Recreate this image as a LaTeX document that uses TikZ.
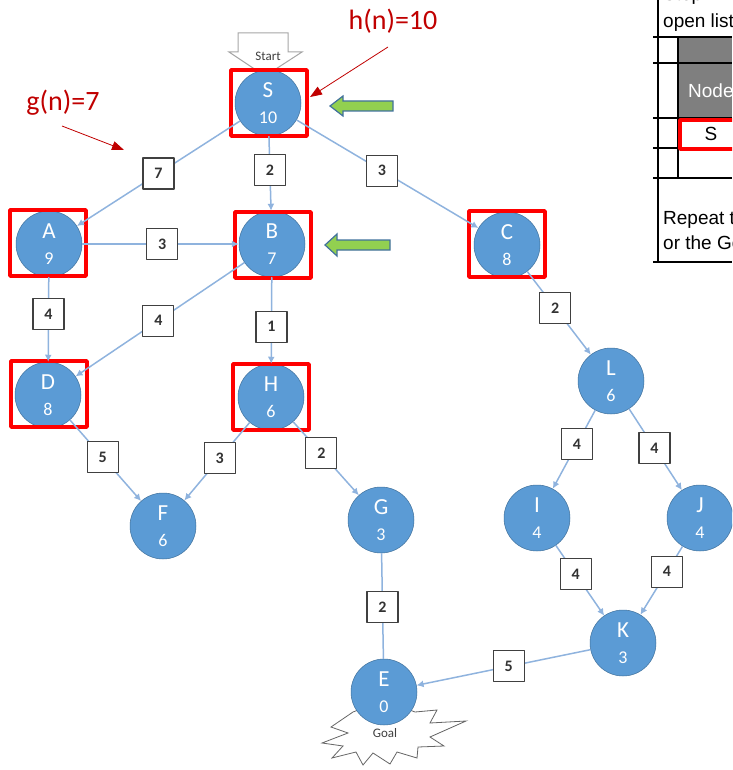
\documentclass[tikz,border=0pt]{standalone}
\usepackage{fontspec}
\setmainfont{Carlito}
\newfontfamily\tablefont{Liberation Sans}
\usetikzlibrary{arrows.meta}
\definecolor{nodeblue}{HTML}{5B9BD5}
\definecolor{nodeline}{HTML}{41719C}
\definecolor{edgeblue}{HTML}{8FB3DE}
\definecolor{notered}{HTML}{C00000}
\definecolor{arrowgreen}{HTML}{92D050}
\definecolor{headgray}{HTML}{7F7F7F}
\newcommand{\hv}[1]{{\fontsize{18}{26}\selectfont #1}}
\begin{document}
\begin{tikzpicture}[x=1pt,y=-1pt,>=latex,line join=bevel,
  state/.style={circle,draw=nodeline,line width=0.5pt,fill=nodeblue,minimum size=66pt,inner sep=0pt,align=center,text=white,font=\fontsize{23}{26}\selectfont},
  seen/.style={draw=red,line width=3.5pt,minimum width=76pt,minimum height=66pt,inner sep=0pt},
  wt/.style={draw=black!75,line width=1.1pt,fill=white,minimum size=31pt,inner sep=0pt,text=black!80,font=\fontsize{16}{16}\selectfont\bfseries},
  link/.style={draw=edgeblue,line width=1.5pt,-{Latex[length=7pt,width=7pt]}},
  note/.style={text=notered,font=\fontsize{28}{28}\selectfont},
  noteline/.style={draw=notered,line width=0.8pt,-{Triangle[length=12pt,width=9pt]}},
  greenarrow/.style={fill=arrowgreen,draw=nodeline,line width=1.2pt,line join=miter},
  tbl/.style={draw=black,line width=1.2pt},
  tbltext/.style={anchor=base west,inner sep=0pt,font=\tablefont\fontsize{19}{19}\selectfont},
]
\useasboundingbox (0,0) rectangle (732,770);
\clip (0,0) rectangle (732,770);
%% start and goal marks
\draw [fill=white,draw=black!35,line width=1pt,line join=miter] (238,33) -- (288,33) -- (288,52) -- (302,52) -- (265,76) -- (229,52) -- (238,52) -- cycle;
\node (start) at (268,56) [text=black!75,font=\fontsize{13}{13}\selectfont] {Start};
\draw [fill=white,draw=black!60,line width=0.8pt,line join=miter] (353,712) -- (331,727) -- (348,733) -- (322,743) -- (343,746) -- (332,758) -- (356,752) -- (363,765) -- (373,753) -- (390,764) -- (397,752) -- (417,758) -- (418,747) -- (444,746) -- (430,737) -- (466,721) -- (430,723) -- (437,710) -- (415,712) -- (384,700) -- cycle;
\node (goal) at (385,733) [text=black!75,font=\fontsize{13}{13}\selectfont] {Goal};
%% states
\node (S) at (268,103) [state] {S\\\hv{10}};
\node (A) at (49,244) [state] {A\\\hv{9}};
\node (B) at (272,244) [state] {B\\\hv{7}};
\node (C) at (507,245) [state] {C\\\hv{8}};
\node (D) at (48,395) [state] {D\\\hv{8}};
\node (H) at (271,397) [state] {H\\\hv{6}};
\node (F) at (163,526) [state] {F\\\hv{6}};
\node (G) at (381,520) [state] {G\\\hv{3}};
\node (L) at (611,381) [state] {L\\\hv{6}};
\node (I) at (537,518) [state] {I\\\hv{4}};
\node (J) at (700,518) [state] {J\\\hv{4}};
\node (K) at (623,643) [state] {K\\\hv{3}};
\node (E) at (384,692) [state] {E\\\hv{0}};
%% visited boxes
\node (Sbox) at (269,103) [seen] {};
\node (Abox) at (48,243) [seen] {};
\node (Bbox) at (273,245) [seen] {};
\node (Cbox) at (507,244) [seen] {};
\node (Dbox) at (49,394) [seen] {};
\node (Hbox) at (271,397) [seen] {};
%% edges with costs
\draw [link] (S) -- node[wt,pos=0.5] (wSA) {7} (A);
\draw [link] (S) -- node[wt,pos=0.45] (wSB) {2} (B);
\draw [link] (S) -- node[wt,pos=0.47] (wSC) {3} (C);
\draw [link] (A) -- node[wt,pos=0.51] (wAB) {3} (B);
\draw [link] (A) -- node[wt,pos=0.44] (wAD) {4} (D);
\draw [link] (B) -- node[wt,pos=0.51] (wBD) {4} (D);
\draw [link] (B) -- node[wt,pos=0.57] (wBH) {1} (H);
\draw [link] (C) -- node[wt,pos=0.44] (wCL) {2} (L);
\draw [link] (D) -- node[wt,pos=0.46] (wDF) {5} (F);
\draw [link] (H) -- node[wt,pos=0.46] (wHF) {3} (F);
\draw [link] (H) -- node[wt,pos=0.43] (wHG) {2} (G);
\draw [link,-] (G) -- node[wt,pos=0.51] (wGE) {2} (E);
\draw [link] (L) -- node[wt,pos=0.43] (wLI) {4} (I);
\draw [link] (L) -- node[wt,pos=0.48] (wLJ) {4} (J);
\draw [link] (I) -- node[wt,pos=0.41] (wIK) {4} (K);
\draw [link] (J) -- node[wt,pos=0.37] (wJK) {4} (K);
\draw [link] (K) -- node[wt,pos=0.47] (wKE) {5} (E);
%% notes
\node (hn) at (393,21) [note] {h(n)=10};
\coordinate (hntail) at (388,47);
\coordinate (hntip) at (310,97);
\draw [noteline] (hntail) -- (hntip);
\node (gn) at (63,103) [note] {g(n)=7};
\coordinate (gntail) at (62,126);
\coordinate (gntip) at (124,150);
\draw [noteline] (gntail) -- (gntip);
\draw [greenarrow] (330,106) -- ++(13,-10) -- ++(0,5) -- ++(50,0) -- ++(0,10) -- ++(-50,0) -- ++(0,5) -- cycle;
\draw [greenarrow] (325,245) -- ++(12,-11) -- ++(0,6) -- ++(53,0) -- ++(0,10) -- ++(-53,0) -- ++(0,6) -- cycle;
%% open list table
\fill [headgray] (678,37) rectangle (732,118);
\draw [tbl] (658,0) -- (658,262);
\draw [tbl] (653,262) -- (732,262);
\draw [tbl] (653,37) -- (732,37);
\draw [tbl] (653,63) -- (732,63);
\draw [tbl] (653,118) -- (732,118);
\draw [tbl] (653,148) -- (732,148);
\draw [tbl] (653,178) -- (732,178);
\draw [tbl] (678,37) -- (678,178);
\draw [draw=red,line width=3.5pt] (680,120) rectangle (745,149);
\node (step) at (663,1) [tbltext] {Step 1:};
\node (open) at (663,28) [tbltext] {open list};
\node (head) at (688,98) [tbltext,text=white] {Node};
\node (cellS) at (711,134) [inner sep=0pt,font=\tablefont\fontsize{19}{19}\selectfont] {S};
\node (rep) at (663,224) [tbltext] {Repeat the};
\node (orG) at (663,249) [tbltext] {or the Goal};
%
\end{tikzpicture}
\end{document}
